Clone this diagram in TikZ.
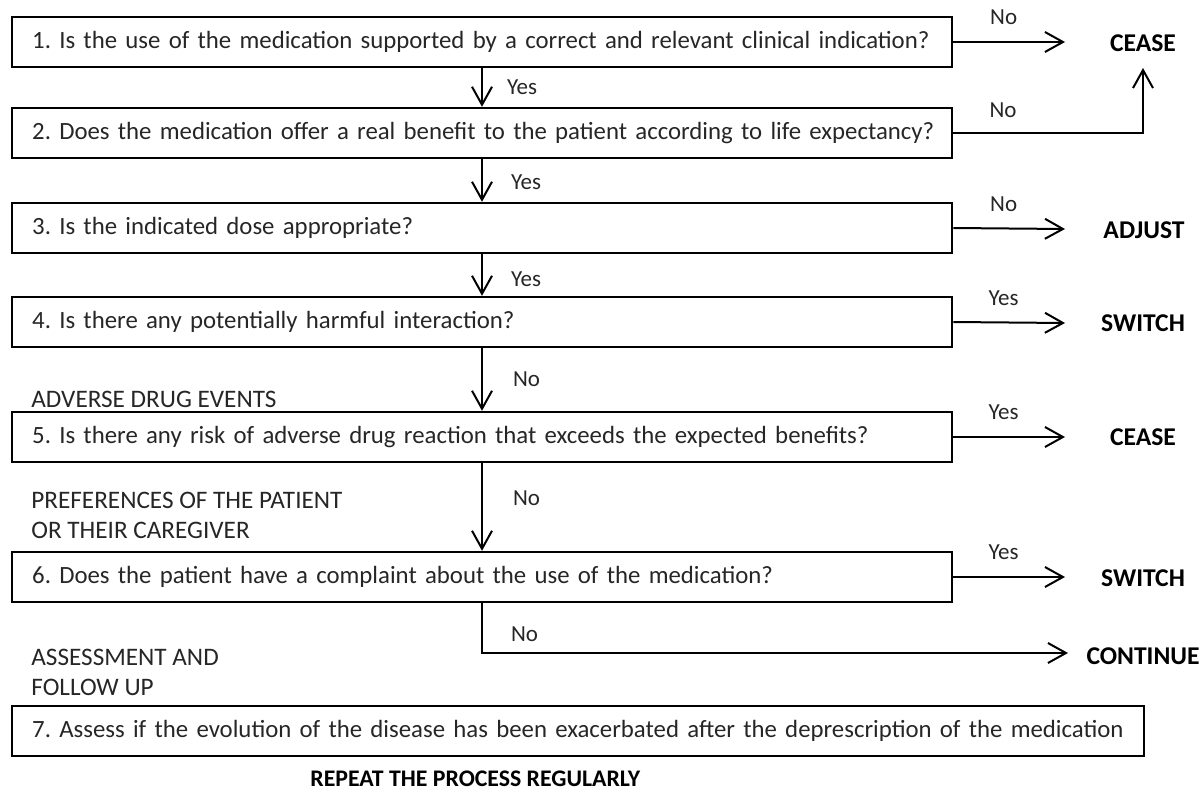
\documentclass[tikz,border=0pt]{standalone}
\usepackage{fontspec}
\setmainfont{Carlito}
\usetikzlibrary{arrows.meta}
\frenchspacing
\begin{document}
\begin{tikzpicture}[x=0.5pt,y=-0.5pt,
  qbox/.style={draw, line width=1.2pt, anchor=west, minimum height=25pt, text width=450pt, inner xsep=10pt, inner ysep=0pt, align=left, font=\fontsize{12.4}{14}\selectfont, text=black!85},
  arr/.style={line width=1pt, -{Straight Barb[length=9pt,width=10pt]}},
  lbl/.style={font=\fontsize{11.5}{13}\selectfont, text=black!85, inner sep=0pt},
  res/.style={font=\fontsize{12.8}{14}\selectfont\bfseries, inner sep=0pt},
  side/.style={anchor=west, align=left, font=\fontsize{12.6}{15}\selectfont, text=black!85, inner sep=0pt}]
\useasboundingbox (0,0) rectangle (1203,792);
\coordinate (vx) at (482,0);
% question boxes
\node[qbox] (q1) at (11,42) {\mbox{1. Is the use of the medication supported by a correct and relevant clinical indication?}};
\node[qbox] (q2) at (11,133) {\mbox{2. Does the medication offer a real benefit to the patient according to life expectancy?}};
\node[qbox] (q3) at (11,228) {\mbox{3. Is the indicated dose appropriate?}};
\node[qbox] (q4) at (11,322) {\mbox{4. Is there any potentially harmful interaction?}};
\node[qbox] (q5) at (11,437) {\mbox{5. Is there any risk of adverse drug reaction that exceeds the expected benefits?}};
\node[qbox] (q6) at (11,577) {\mbox{6. Does the patient have a complaint about the use of the medication?}};
\node[qbox, text width=546pt] (q7) at (11,731) {\mbox{7. Assess if the evolution of the disease has been exacerbated after the deprescription of the medication}};
% results
\node[res] (r1) at (1143,43) {CEASE};
\node[res] (r3) at (1144,230) {ADJUST};
\node[res] (r4) at (1143,323) {SWITCH};
\node[res] (r5) at (1143,437) {CEASE};
\node[res] (r6) at (1143,578) {SWITCH};
\node[res, anchor=east] (r7) at (1200,656) {CONTINUE};
\node[res, anchor=west, font=\fontsize{11.9}{14}\selectfont\bfseries] (rep) at (310,779) {REPEAT THE PROCESS REGULARLY};
% side labels
\node[side] (s5) at (31,399) {ADVERSE DRUG EVENTS};
\node[side] (s6) at (31,515) {PREFERENCES OF THE PATIENT\\OR THEIR CAREGIVER};
\node[side] (s7) at (31,672) {ASSESSMENT AND\\FOLLOW UP};
% end points
\coordinate (e1) at (1065,42);
\coordinate (t2) at (1143,68);
\coordinate (e3) at (1065,229);
\coordinate (e4) at (1065,323);
\coordinate (e5) at (1065,437);
\coordinate (e6) at (1065,577);
\coordinate (e7) at (1068,653);
% vertical arrows
\draw[arr] (q1.south -| vx) -- (q2.north -| vx) node[lbl, pos=0.5, anchor=west, xshift=12pt] {Yes};
\draw[arr] (q2.south -| vx) -- (q3.north -| vx) node[lbl, pos=0.55, anchor=west, xshift=14pt] {Yes};
\draw[arr] (q3.south -| vx) -- (q4.north -| vx) node[lbl, pos=0.6, anchor=west, xshift=14pt] {Yes};
\draw[arr] (q4.south -| vx) -- (q5.north -| vx) node[lbl, pos=0.5, anchor=west, xshift=15pt] {No};
\draw[arr] (q5.south -| vx) -- (q6.north -| vx) node[lbl, pos=0.4, anchor=west, xshift=15pt] {No};
\draw[arr] (q6.south -| vx) |- (e7) node[lbl, pos=0.25, anchor=west, xshift=14pt, yshift=-3pt] {No};
% horizontal arrows
\draw[arr] (q1.east) -- (e1) node[lbl, pos=0.45, above=8pt] {No};
\draw[arr] (q2.east) -| (t2);
\node[lbl] (n2) at (1003,110) {No};
\draw[arr] (q3.east) -- (e3) node[lbl, pos=0.45, above=8pt] {No};
\draw[arr] (q4.east) -- (e4) node[lbl, pos=0.45, above=8pt] {Yes};
\draw[arr] (q5.east) -- (e5) node[lbl, pos=0.45, above=8pt] {Yes};
\draw[arr] (q6.east) -- (e6) node[lbl, pos=0.45, above=8pt] {Yes};
\end{tikzpicture}
\end{document}
